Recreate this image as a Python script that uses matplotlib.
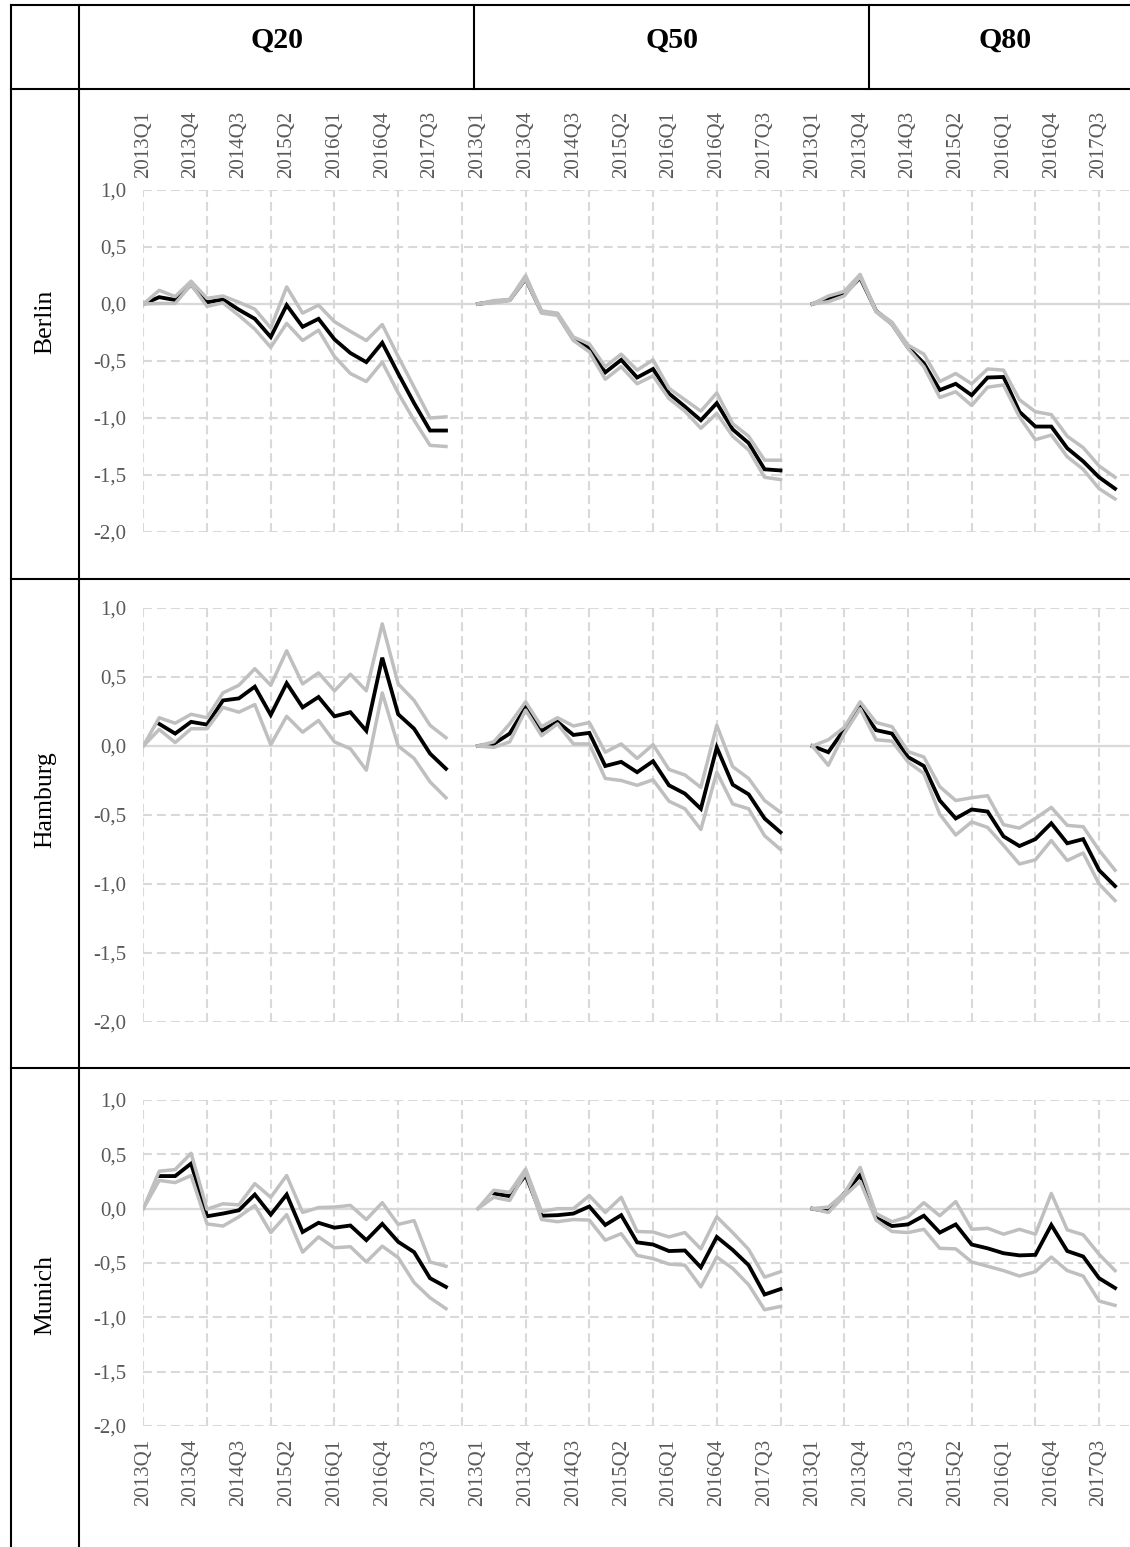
import numpy as np
import matplotlib
matplotlib.use("Agg")
import matplotlib.pyplot as plt
from matplotlib.lines import Line2D

nan = np.nan

quarters = ["2013Q1", "2013Q2", "2013Q3", "2013Q4", "2014Q1", "2014Q2", "2014Q3", "2014Q4",
            "2015Q1", "2015Q2", "2015Q3", "2015Q4", "2016Q1", "2016Q2", "2016Q3", "2016Q4",
            "2017Q1", "2017Q2", "2017Q3", "2017Q4"]
quantiles = ["Q20", "Q50", "Q80"]
cities = ["Berlin", "Hamburg", "Munich"]
y_ticks = [1.0, 0.5, 0.0, -0.5, -1.0, -1.5, -2.0]

# ---- Berlin ----
berlin_q20_mid = [0.0, 0.06, 0.035, 0.17, 0.015, 0.04, -0.05, -0.13, -0.29, -0.01, -0.20, -0.13, -0.31, -0.43, -0.51, -0.34, -0.61, -0.87, -1.11, -1.11]
berlin_q20_up = [0.0, 0.12, 0.065, 0.20, 0.05, 0.07, 0.015, -0.045, -0.21, 0.15, -0.08, -0.01, -0.155, -0.24, -0.32, -0.18, -0.46, -0.73, -1.0, -0.99]
berlin_q20_lo = [0.0, 0.005, 0.005, 0.17, -0.02, 0.01, -0.10, -0.22, -0.38, -0.17, -0.32, -0.23, -0.46, -0.61, -0.68, -0.51, -0.78, -1.02, -1.24, -1.25]

berlin_q50_mid = [0.0, 0.02, 0.035, 0.22, -0.07, -0.09, -0.31, -0.39, -0.60, -0.49, -0.645, -0.57, -0.785, -0.90, -1.02, -0.87, -1.10, -1.22, -1.45, -1.46]
berlin_q50_up = [0.0, 0.03, 0.04, 0.25, -0.06, -0.08, -0.29, -0.35, -0.55, -0.44, -0.58, -0.49, -0.74, -0.84, -0.94, -0.78, -1.05, -1.16, -1.37, -1.37]
berlin_q50_lo = [0.0, 0.01, 0.03, 0.22, -0.08, -0.10, -0.32, -0.42, -0.66, -0.55, -0.70, -0.63, -0.83, -0.94, -1.09, -0.96, -1.16, -1.28, -1.52, -1.54]

berlin_q80_mid = [0.0, 0.045, 0.09, 0.23, -0.06, -0.175, -0.38, -0.52, -0.755, -0.70, -0.80, -0.645, -0.64, -0.945, -1.075, -1.075, -1.265, -1.38, -1.52, -1.62]
berlin_q80_up = [0.0, 0.07, 0.11, 0.26, -0.06, -0.16, -0.36, -0.44, -0.68, -0.61, -0.70, -0.57, -0.58, -0.84, -0.945, -0.97, -1.16, -1.26, -1.42, -1.52]
berlin_q80_lo = [0.0, 0.02, 0.07, 0.24, -0.07, -0.18, -0.39, -0.55, -0.82, -0.77, -0.89, -0.73, -0.71, -0.99, -1.19, -1.15, -1.34, -1.45, -1.62, -1.71]

# ---- Hamburg ----
hamburg_q20_mid = [nan, 0.16, 0.09, 0.175, 0.155, 0.33, 0.345, 0.43, 0.225, 0.455, 0.28, 0.355, 0.215, 0.245, 0.11, 0.64, 0.23, 0.125, -0.055, -0.165]
hamburg_q20_up = [0.0, 0.205, 0.165, 0.23, 0.205, 0.385, 0.44, 0.56, 0.44, 0.69, 0.45, 0.53, 0.40, 0.52, 0.40, 0.885, 0.45, 0.33, 0.15, 0.06]
hamburg_q20_lo = [0.0, 0.12, 0.025, 0.125, 0.125, 0.28, 0.245, 0.30, 0.01, 0.215, 0.10, 0.185, 0.03, -0.02, -0.175, 0.385, 0.0, -0.09, -0.26, -0.375]

hamburg_q50_mid = [0.0, 0.015, 0.09, 0.28, 0.11, 0.175, 0.08, 0.095, -0.145, -0.115, -0.19, -0.11, -0.285, -0.345, -0.455, -0.01, -0.28, -0.35, -0.525, -0.625]
hamburg_q50_up = [0.0, 0.03, 0.16, 0.32, 0.14, 0.205, 0.145, 0.17, -0.045, 0.015, -0.09, 0.01, -0.17, -0.21, -0.30, 0.15, -0.15, -0.235, -0.395, -0.48]
hamburg_q50_lo = [0.0, -0.01, 0.03, 0.26, 0.075, 0.16, 0.015, 0.015, -0.235, -0.25, -0.285, -0.245, -0.40, -0.455, -0.605, -0.19, -0.42, -0.455, -0.65, -0.75]

hamburg_q80_mid = [0.0, -0.045, 0.12, 0.28, 0.115, 0.09, -0.08, -0.145, -0.395, -0.525, -0.46, -0.475, -0.655, -0.725, -0.675, -0.56, -0.705, -0.675, -0.90, -1.015]
hamburg_q80_up = [0.0, 0.045, 0.135, 0.32, 0.17, 0.14, -0.04, -0.08, -0.295, -0.395, -0.375, -0.36, -0.57, -0.595, -0.525, -0.445, -0.575, -0.585, -0.755, -0.90]
hamburg_q80_lo = [0.0, -0.14, 0.09, 0.27, 0.045, 0.035, -0.115, -0.20, -0.495, -0.645, -0.55, -0.59, -0.72, -0.855, -0.825, -0.685, -0.83, -0.775, -1.0, -1.12]

# ---- Munich ----
munich_q20_mid = [nan, 0.30, 0.30, 0.415, -0.07, -0.045, -0.015, 0.13, -0.055, 0.13, -0.215, -0.13, -0.175, -0.155, -0.29, -0.14, -0.305, -0.40, -0.64, -0.72]
munich_q20_up = [0.0, 0.345, 0.36, 0.51, -0.005, 0.045, 0.035, 0.23, 0.105, 0.305, -0.035, 0.01, 0.015, 0.03, -0.10, 0.055, -0.145, -0.11, -0.49, -0.53]
munich_q20_lo = [0.0, 0.26, 0.24, 0.305, -0.14, -0.16, -0.075, 0.03, -0.22, -0.055, -0.40, -0.26, -0.36, -0.35, -0.49, -0.345, -0.45, -0.68, -0.82, -0.92]

munich_q50_mid = [nan, 0.14, 0.115, 0.31, -0.065, -0.06, -0.045, 0.02, -0.15, -0.06, -0.31, -0.33, -0.39, -0.385, -0.54, -0.26, -0.38, -0.52, -0.79, -0.74]
munich_q50_up = [0.0, 0.17, 0.15, 0.365, -0.025, 0.0, 0.0, 0.12, -0.035, 0.105, -0.21, -0.215, -0.26, -0.22, -0.37, -0.075, -0.22, -0.375, -0.63, -0.58]
munich_q50_lo = [0.0, 0.105, 0.075, 0.335, -0.10, -0.12, -0.10, -0.105, -0.29, -0.23, -0.43, -0.46, -0.51, -0.52, -0.72, -0.445, -0.55, -0.70, -0.93, -0.90]

munich_q80_mid = [0.0, -0.025, 0.14, 0.31, -0.085, -0.16, -0.145, -0.065, -0.22, -0.145, -0.33, -0.365, -0.41, -0.43, -0.425, -0.15, -0.39, -0.44, -0.64, -0.73]
munich_q80_up = [0.0, 0.015, 0.14, 0.38, -0.045, -0.12, -0.075, 0.055, -0.065, 0.065, -0.19, -0.18, -0.235, -0.19, -0.235, 0.14, -0.195, -0.24, -0.42, -0.57]
munich_q80_lo = [0.0, -0.035, 0.115, 0.25, -0.105, -0.21, -0.22, -0.19, -0.365, -0.37, -0.49, -0.53, -0.57, -0.62, -0.58, -0.445, -0.57, -0.62, -0.85, -0.89]

data = {
    "Berlin": [(berlin_q20_lo, berlin_q20_mid, berlin_q20_up),
               (berlin_q50_lo, berlin_q50_mid, berlin_q50_up),
               (berlin_q80_lo, berlin_q80_mid, berlin_q80_up)],
    "Hamburg": [(hamburg_q20_lo, hamburg_q20_mid, hamburg_q20_up),
                (hamburg_q50_lo, hamburg_q50_mid, hamburg_q50_up),
                (hamburg_q80_lo, hamburg_q80_mid, hamburg_q80_up)],
    "Munich": [(munich_q20_lo, munich_q20_mid, munich_q20_up),
               (munich_q50_lo, munich_q50_mid, munich_q50_up),
               (munich_q80_lo, munich_q80_mid, munich_q80_up)],
}

# ---------------- layout ----------------
W, H = 1130, 1547
fig = plt.figure(figsize=(W / 100, H / 100), dpi=100)
SERIF = ["Liberation Serif", "DejaVu Serif"]

def fx(px):
    return px / W

def fy(py):
    return 1 - py / H

def fline(x0, y0, x1, y1, lw=1.5):
    fig.add_artist(Line2D([fx(x0), fx(x1)], [fy(y0), fy(y1)], color="black",
                          lw=lw, solid_capstyle="projecting"))

# table borders
fline(11, 5, 1135, 5)
fline(11, 89, 1135, 89)
fline(11, 579, 1135, 579)
fline(11, 1068, 1135, 1068)
fline(11, 5, 11, 1550)
fline(79, 5, 79, 1550)
fline(474, 5, 474, 89)
fline(869, 5, 869, 89)

header_x = [277, 672, 1005]
for q, hx in zip(quantiles, header_x):
    fig.text(fx(hx), fy(40), q, ha="center", va="center", fontsize=21.5,
             fontweight="bold", family=SERIF)

row_label_y = [322, 800, 1295]
for c, ly in zip(cities, row_label_y):
    fig.text(fx(45), fy(ly), c, ha="center", va="center", rotation=90,
             fontsize=18.5, family=SERIF)

# axes pixel extents (y of 1.0 and -2.0)
axes_y = {"Berlin": (190, 532), "Hamburg": (608, 1022), "Munich": (1100, 1426)}
x_left_px = 143.3
cat_px = 15.93
n_cats = 63
x_right_px = x_left_px + (n_cats - 1) * cat_px

GRID = "#d9d9d9"
GREY = "#bfbfbf"
TICKC = "#595959"
DASH = (0, (4.3, 2.4))

block = len(quarters) + 1
tick_pos = list(range(0, n_cats - 1, 3))
tick_lab = [quarters[p % block] if p % block < len(quarters) else "" for p in tick_pos]

for ci, city in enumerate(cities):
    ytop, ybot = axes_y[city]
    ax = fig.add_axes([fx(x_left_px), fy(ybot), fx(x_right_px) - fx(x_left_px),
                       fy(ytop) - fy(ybot)])
    ax.set_xlim(0, n_cats - 1)
    ax.set_ylim(-2.0, 1.0)
    for s in ax.spines.values():
        s.set_visible(False)
    ax.xaxis.remove_overlapping_locs = False
    ax.set_yticks(y_ticks)
    ax.set_yticklabels([f"{v:.1f}".replace(".", ",") for v in y_ticks])
    ax.set_xticks(tick_pos)
    ax.set_xticks(list(range(0, n_cats, 4)), minor=True)
    ax.grid(False)
    ax.grid(True, which="major", axis="y", color=GRID, lw=1.5, ls=DASH)
    ax.grid(True, which="minor", axis="x", color=GRID, lw=1.5, ls=DASH)
    ax.set_axisbelow(True)
    ax.axhline(0, color=GRID, lw=1.6, zorder=1.5)
    ax.tick_params(axis="both", which="both", length=0, colors=TICKC, labelsize=15)
    ax.tick_params(axis="y", pad=12)
    for lab in ax.get_yticklabels():
        lab.set_family(SERIF)
    if city == "Berlin":
        ax.xaxis.tick_top()
        ax.set_xticklabels(tick_lab, rotation=90, family=SERIF)
        ax.tick_params(axis="x", pad=9)
    elif city == "Munich":
        ax.set_xticklabels(tick_lab, rotation=90, family=SERIF)
        ax.tick_params(axis="x", pad=9)
    else:
        ax.set_xticklabels([])
    for qi in range(3):
        lo, mid, up = data[city][qi]
        xs = np.arange(len(quarters)) + qi * block
        ax.plot(xs, mid, color="black", lw=2.75, zorder=3, solid_joinstyle="miter")
        ax.plot(xs, up, color=GREY, lw=2.5, zorder=4)
        ax.plot(xs, lo, color=GREY, lw=2.5, zorder=4)
    ax.patch.set_alpha(0)

fig.savefig("out.png", dpi=100)
